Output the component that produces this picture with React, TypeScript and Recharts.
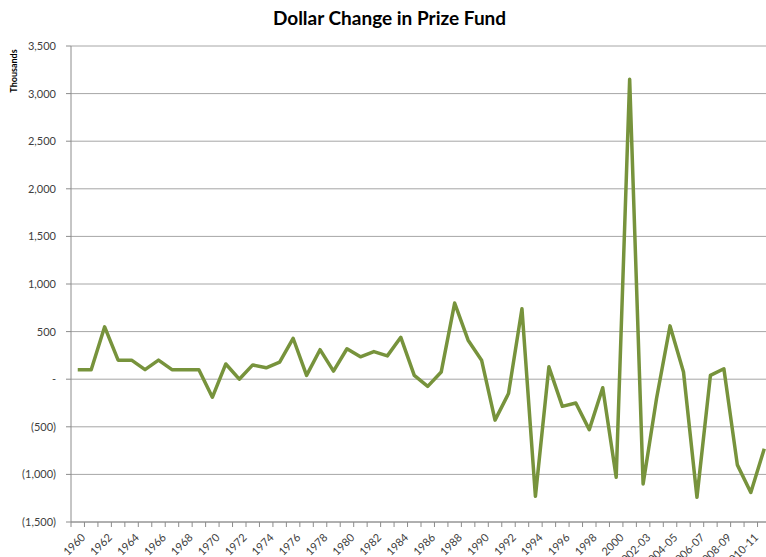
import { CartesianGrid, Line, LineChart, XAxis, YAxis } from 'recharts';

const years = [
  '1960', '1961', '1962', '1963', '1964', '1965', '1966', '1967', '1968', '1969',
  '1970', '1971', '1972', '1973', '1974', '1975', '1976', '1977', '1978', '1979',
  '1980', '1981', '1982', '1983', '1984', '1985', '1986', '1987', '1988', '1989',
  '1990', '1991', '1992', '1993', '1994', '1995', '1996', '1997', '1998', '1999',
  '2000', '2001-02', '2002-03', '2003-04', '2004-05', '2005-06', '2006-07', '2007-08',
  '2008-09', '2009-10', '2010-11', '2011-12',
];

// thousands of dollars
const change = [
  100, 100, 550, 200, 200, 100, 200, 100, 100, 100,
  -190, 160, 0, 150, 120, 180, 430, 40, 310, 85,
  320, 235, 290, 245, 440, 40, -75, 75, 800, 410,
  200, -430, -150, 740, -1230, 130, -285, -250, -530, -90,
  -1030, 3150, -1100, -200, 560, 75, -1240, 40,
  110, -900, -1190, -730,
];

const yTicks = [-1500, -1000, -500, 0, 500, 1000, 1500, 2000, 2500, 3000, 3500];

const data = years.map((year, i) => ({ year, value: change[i] }));

const FONT = 'Lato, "DejaVu Sans", sans-serif';
const CHART_W = 774;
const CHART_H = 557;
const Y_W = 71;
const RIGHT = 3;
const BAND = (CHART_W - Y_W - RIGHT) / data.length;

function fmtAccounting(v: number) {
  if (v === 0) return '-';
  const s = Math.abs(v).toLocaleString('en-US');
  return v < 0 ? `(${s})` : s;
}

function XTick(props: any) {
  const { x, y, payload, index } = props;
  const bx = x - BAND / 2;
  return (
    <g>
      <line x1={bx} y1={y} x2={bx} y2={y + 5} stroke="#8c8c8c" />
      {index % 2 === 0 && (
        <text
          x={x + 2}
          y={y + 10}
          textAnchor="end"
          dominantBaseline="hanging"
          transform={`rotate(-45 ${x + 2} ${y + 10})`}
          fontSize={11}
          fontFamily={FONT}
          fill="#404040"
        >
          {payload.value}
        </text>
      )}
    </g>
  );
}

function UnitLabel() {
  return (
    <text
      x={17}
      y={71}
      textAnchor="middle"
      transform="rotate(-90 17 71)"
      fontSize={9}
      fontWeight="bold"
      fontFamily={FONT}
      fill="#000"
    >
      Thousands
    </text>
  );
}

export default function App() {
  return (
    <div
      style={{
        position: 'fixed',
        left: 0,
        top: 0,
        width: 766,
        height: 557,
        overflow: 'hidden',
        background: '#fff',
      }}
    >
      <div
        style={{
          position: 'absolute',
          left: 0,
          top: 6,
          width: 779,
          textAlign: 'center',
          fontFamily: FONT,
          fontWeight: 'bold',
          fontSize: 19,
          lineHeight: '24px',
          color: '#000',
        }}
      >
        Dollar Change in Prize Fund
      </div>
      <LineChart
        width={CHART_W}
        height={CHART_H}
        data={data}
        margin={{ top: 46, right: RIGHT, left: 0, bottom: 0 }}
      >
        <CartesianGrid vertical={false} stroke="#a6a6a6" />
        <XAxis
          dataKey="year"
          height={35}
          interval={0}
          padding={{ left: BAND / 2, right: BAND / 2 }}
          tickLine={false}
          tickSize={0}
          tickMargin={0}
          axisLine={{ stroke: '#8c8c8c' }}
          tick={<XTick />}
        />
        <YAxis
          width={Y_W}
          domain={[-1500, 3500]}
          ticks={yTicks}
          tickFormatter={fmtAccounting}
          tickSize={5}
          tickMargin={10}
          tickLine={{ stroke: '#8c8c8c' }}
          axisLine={{ stroke: '#8c8c8c' }}
          tick={{ fontSize: 11, fontFamily: FONT, fill: '#404040' }}
          label={<UnitLabel />}
        />
        <Line
          type="linear"
          dataKey="value"
          stroke="#77933c"
          strokeWidth={3.5}
          strokeLinejoin="round"
          dot={false}
          isAnimationActive={false}
        />
      </LineChart>
    </div>
  );
}
